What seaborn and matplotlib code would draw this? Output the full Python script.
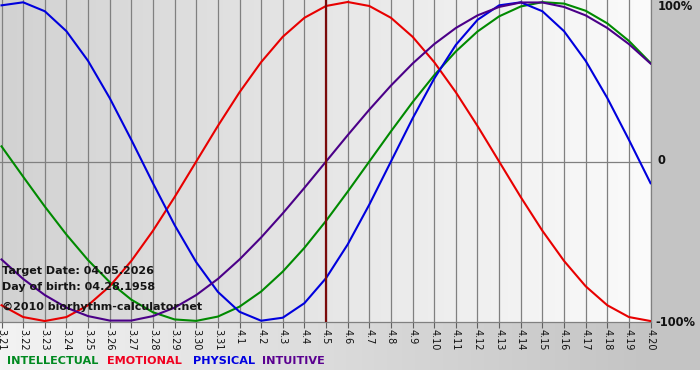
import numpy as np
import pandas as pd
import matplotlib
matplotlib.use("Agg")
import matplotlib.pyplot as plt
from matplotlib.colors import LinearSegmentedColormap
import seaborn as sns

# ---- data ----
dates = ["3.21", "3.22", "3.23", "3.24", "3.25", "3.26", "3.27", "3.28", "3.29", "3.30", "3.31",
         "4.1", "4.2", "4.3", "4.4", "4.5", "4.6", "4.7", "4.8", "4.9", "4.10", "4.11",
         "4.12", "4.13", "4.14", "4.15", "4.16", "4.17", "4.18", "4.19", "4.20"]
target_label = "4.5"

intellectual = [0.095, -0.095, -0.282, -0.458, -0.618, -0.756, -0.866, -0.945, -0.990, -0.999, -0.972,
                -0.910, -0.815, -0.690, -0.541, -0.372, -0.189, 0.000, 0.189, 0.372, 0.541,
                0.690, 0.815, 0.910, 0.972, 0.999, 0.990, 0.945, 0.866, 0.756, 0.618]
emotional = [-0.901, -0.975, -1.000, -0.975, -0.901, -0.782, -0.623, -0.434, -0.223, 0.000, 0.223,
             0.434, 0.623, 0.782, 0.901, 0.975, 1.000, 0.975, 0.901, 0.782, 0.623,
             0.434, 0.223, 0.000, -0.223, -0.434, -0.623, -0.782, -0.901, -0.975, -1.000]
physical = [0.979, 0.998, 0.942, 0.817, 0.631, 0.398, 0.136, -0.136, -0.398, -0.631, -0.817,
            -0.942, -0.998, -0.979, -0.888, -0.731, -0.520, -0.270, 0.000, 0.270, 0.520,
            0.731, 0.888, 0.979, 0.998, 0.942, 0.817, 0.631, 0.398, 0.136, -0.136]
intuitive = [-0.614, -0.736, -0.837, -0.916, -0.969, -0.997, -0.997, -0.969, -0.916, -0.837, -0.736,
             -0.614, -0.476, -0.325, -0.165, 0.000, 0.165, 0.325, 0.476, 0.614, 0.736,
             0.837, 0.916, 0.969, 0.997, 0.997, 0.969, 0.916, 0.837, 0.736, 0.614]

series_names = ["INTELLECTUAL", "EMOTIONAL", "PHYSICAL", "INTUITIVE"]
series_values = [intellectual, emotional, physical, intuitive]
colors = {"INTELLECTUAL": "#008a00", "EMOTIONAL": "#e80000", "PHYSICAL": "#0000dd", "INTUITIVE": "#4b0088"}
text_colors = {"INTELLECTUAL": "#008a20", "EMOTIONAL": "#f00020", "PHYSICAL": "#0000e0", "INTUITIVE": "#5a0090"}

info_lines = ["Target Date: 04.05.2026", "Day of birth: 04.28.1958", "\u00a92010 biorhythm-calculator.net"]
right_labels = ["100%", "0", "-100%"]

rows = []
for name, vals in zip(series_names, series_values):
    for i, v in enumerate(vals):
        rows.append({"day": i, "value": v, "series": name})
df = pd.DataFrame(rows)

# ---- figure ----
W, H = 700, 380
fig = plt.figure(figsize=(7, 3.8), dpi=100, facecolor="white")

# background gradient (bottom strip + right margin)
bg = fig.add_axes([0, 10 / H, 1, 370 / H])
grad = np.clip(np.arange(W) / 651.0, 0, 1)[None, :]
bg_cmap = LinearSegmentedColormap.from_list("bg", ["#f3f3f3", "#c4c4c4"])
bg.imshow(grad, cmap=bg_cmap, aspect="auto", extent=[0, W, 0, 1], vmin=0, vmax=1)
bg.axis("off")

ax = fig.add_axes([0, (H - 322) / H, 651 / W, 322 / H])
xmin, xmax = -0.07, len(dates) - 1 + 0.02
ymin, ymax = -1.006, 1.0125
ax.set_xlim(xmin, xmax)
ax.set_ylim(ymin, ymax)

plot_cmap = LinearSegmentedColormap.from_list("pl", ["#d2d2d2", "#fbfbfb"])
ax.imshow(np.linspace(0, 1, 256)[None, :], cmap=plot_cmap, aspect="auto",
          extent=[xmin, xmax, ymin, ymax], zorder=0)

x_idx = list(range(len(dates)))
for xi in x_idx:
    ax.axvline(xi, color="#808080", lw=0.9, zorder=1)
ax.axhline(0, color="#808080", lw=0.9, zorder=1)

sns.lineplot(data=df, x="day", y="value", hue="series", hue_order=series_names,
             palette=colors, linewidth=1.5, legend=False, ax=ax, zorder=3)

ax.axvline(dates.index(target_label), color="#7a0a0a", lw=1.6, zorder=4)

ax.set_xticks(x_idx)
ax.set_xticklabels(dates, rotation=-90, fontsize=7, color="#111111")
ax.set_yticks([])
ax.set_xlabel("")
ax.set_ylabel("")
ax.tick_params(axis="x", direction="out", length=4, width=0.8, color="#606060", pad=1)
for s in ["left", "top"]:
    ax.spines[s].set_visible(False)
for s in ["bottom", "right"]:
    ax.spines[s].set_color("#808080")
    ax.spines[s].set_linewidth(0.9)

def ftext(px, py, s, **kw):
    fig.text(px / W, 1 - py / H, s, **kw)

info_y = [271, 287, 307]
for s, y in zip(info_lines, info_y):
    ftext(2, y, s, fontsize=8.0, fontweight="bold", color="#151515", va="center", ha="left", zorder=10)

for s, y in zip(right_labels, [7, 161, 322]):
    ftext(658 if s != "-100%" else 655, y, s, fontsize=8.3, fontweight="bold", color="#111111",
          va="center", ha="left")

legend_x = [7, 107, 193, 262]
for name, lx in zip(series_names, legend_x):
    ftext(lx, 361, name, fontsize=8.1, fontweight="bold", color=text_colors[name], va="center", ha="left")

fig.savefig("out.png", dpi=100, facecolor="white")
